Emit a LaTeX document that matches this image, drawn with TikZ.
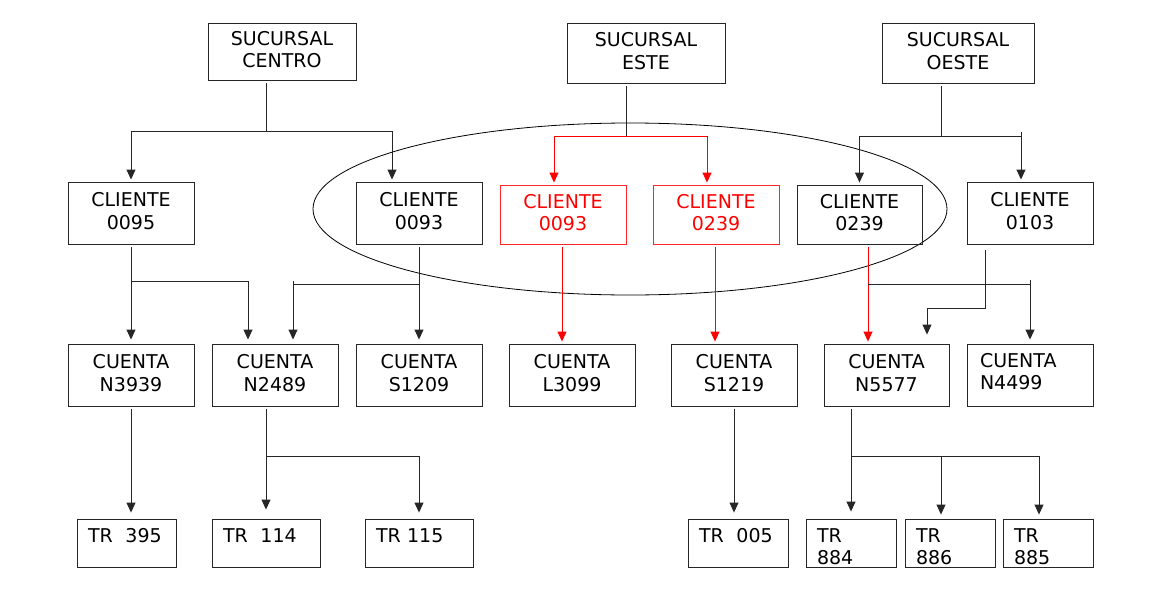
\documentclass[tikz,border=0pt]{standalone}
\usepackage{fontspec}
\setmainfont{DejaVu Sans}
\usetikzlibrary{arrows.meta}
\tikzset{
  box/.style={draw=black!85, line width=0.9pt, inner sep=0pt, align=center,
    font=\fontsize{19}{22.5}\selectfont, text height=36pt, text depth=4pt},
  redbox/.style={box, draw=red!85, text=red},
  leftbox/.style={box, align=left, text height=15pt, text depth=31pt},
  trbox/.style={box, align=left, inner xsep=11pt, minimum height=48pt,
    text height=21pt, text depth=23pt},
  conn/.style={line width=0.9pt, draw=black!85},
  arr/.style={conn, -{Triangle[length=10pt,width=9pt]}},
  rarr/.style={line width=0.9pt, draw=red, -{Triangle[length=10pt,width=9pt]}},
}
\begin{document}
\begin{tikzpicture}[x=1pt,y=-1pt]
\useasboundingbox (0,0) rectangle (1159,597);
% ellipse
\draw[line width=0.8pt] (630,209) ellipse [x radius=317pt, y radius=86pt];
% level 0
\node[box, minimum width=148pt, minimum height=57pt] (sc) at (282,51.5) {SUCURSAL\\CENTRO};
\node[box, minimum width=158pt, minimum height=60pt] (se) at (646,53) {SUCURSAL\\ESTE};
\node[box, minimum width=152pt, minimum height=60pt] (so) at (958,53) {SUCURSAL\\OESTE};
% level 1
\node[box, minimum width=126pt, minimum height=62pt] (c95) at (131,213) {CLIENTE\\0095};
\node[box, minimum width=126pt, minimum height=62pt] (c93) at (419,213) {CLIENTE\\0093};
\node[redbox, minimum width=126pt, minimum height=59pt] (r93) at (563,214.5) {CLIENTE\\0093};
\node[redbox, minimum width=126pt, minimum height=59pt] (r239) at (716,214.5) {CLIENTE\\0239};
\node[box, minimum width=125pt, minimum height=59pt] (c239) at (859.5,214.5) {CLIENTE\\0239};
\node[box, minimum width=126pt, minimum height=62pt] (c103) at (1030,213) {CLIENTE\\0103};
% level 2
\node[box, minimum width=126pt, minimum height=62pt] (n3939) at (131,375) {CUENTA\\N3939};
\node[box, minimum width=126pt, minimum height=62pt] (n2489) at (275,375) {CUENTA\\N2489};
\node[box, minimum width=126pt, minimum height=62pt] (s1209) at (419,375) {CUENTA\\S1209};
\node[box, minimum width=126pt, minimum height=62pt] (l3099) at (572,375) {CUENTA\\L3099};
\node[box, minimum width=126pt, minimum height=62pt] (s1219) at (734,375) {CUENTA\\S1219};
\node[box, minimum width=125pt, minimum height=62pt] (n5577) at (886.5,375) {CUENTA\\N5577};
\node[leftbox, text width=100pt, inner xsep=13pt, minimum height=62pt] (n4499) at (1030,375) {CUENTA\\N4499};
% level 3
\node[trbox, text width=77pt] (t395) at (126.5,543) {TR\ \ 395};
\node[trbox, text width=86pt] (t114) at (266,543) {TR\ \ 114};
\node[trbox, text width=86pt] (t115) at (419,543) {TR 115};
\node[trbox, text width=78pt] (t005) at (738,543) {TR\ \ 005};
\node[trbox, text width=68pt] (t884) at (851,543) {TR\\884};
\node[trbox, text width=68pt] (t886) at (950,543) {TR\\886};
\node[trbox, text width=68pt] (t885) at (1048,543) {TR\\885};
% connectors: centro
\coordinate (jc) at (266,131);
\draw[conn] ([xshift=-16pt,yshift=-3pt]sc.south) -- (jc);
\draw[arr] (jc) -| ([yshift=2pt]c95.north);
\draw[arr] (jc) -| ([xshift=-27pt,yshift=2pt]c93.north);
% este
\coordinate (je) at (626,136);
\draw[conn] ([xshift=-20pt,yshift=-3pt]se.south) -- (je);
\draw[rarr] (je) -| ([xshift=-9pt,yshift=2pt]r93.north);
\draw[rarr] (je) -| ([xshift=-9pt,yshift=2pt]r239.north);
% oeste
\coordinate (jo) at (941,136);
\coordinate (ko) at (1021,132);
\draw[conn] ([xshift=-17pt,yshift=-3pt]so.south) -- (jo);
\draw[arr] (jo) -| ([yshift=2pt]c239.north);
\draw[arr] (jo) -| ([xshift=-9pt,yshift=2pt]c103.north);
\draw[conn] (ko) -- (ko |- jo);
% cliente 0095
\coordinate (j95) at (131,281);
\draw[arr] ([yshift=-3pt]c95.south) -- ([yshift=4pt]n3939.north);
\draw[arr] (j95) -| ([xshift=-27pt,yshift=4pt]n2489.north);
% cliente 0093
\coordinate (j93) at (419,284);
\coordinate (k93) at (293,281);
\draw[arr] ([yshift=-3pt]c93.south) -- ([yshift=4pt]s1209.north);
\draw[arr] (j93) -| ([xshift=18pt,yshift=4pt]n2489.north);
\draw[conn] (k93) -- (k93 |- j93);
% red clientes
\draw[rarr] ([xshift=-1pt,yshift=-3pt]r93.south) -- ([xshift=-10pt,yshift=2pt]l3099.north);
\draw[rarr] ([xshift=-1pt,yshift=-3pt]r239.south) -- ([xshift=-19pt,yshift=2pt]s1219.north);
\draw[rarr] ([xshift=8.5pt,yshift=-3pt]c239.south) -- ([xshift=-18.5pt,yshift=2pt]n5577.north);
% branch to N4499
\coordinate (j239) at (868,284);
\coordinate (k239) at (1030,280);
\draw[arr] (j239) -| ([yshift=4pt]n4499.north);
\draw[conn] (k239) -- (k239 |- j239);
% cliente 0103
\coordinate (j103) at (985,308);
\draw[arr] ([xshift=-45pt,yshift=-6pt]c103.south) -- (j103) -| ([xshift=40.5pt,yshift=9pt]n5577.north);
% cuentas to TR
\draw[arr] ([yshift=-3pt]n3939.south) -- ([xshift=4.5pt,yshift=6pt]t395.north);
\coordinate (j2489) at (266,456);
\draw[arr] ([xshift=-9pt,yshift=-3pt]n2489.south) -- ([yshift=9pt]t114.north);
\draw[arr] (j2489) -| ([yshift=6pt]t115.north);
\draw[arr] ([yshift=-3pt]s1219.south) -- ([xshift=-4pt,yshift=6pt]t005.north);
\coordinate (j5577) at (851,456);
\draw[arr] ([xshift=-35.5pt,yshift=-3pt]n5577.south) -- ([yshift=7pt]t884.north);
\draw[arr] (j5577) -| ([xshift=-9pt,yshift=4pt]t886.north);
\draw[arr] (j5577) -| ([xshift=-9pt,yshift=4pt]t885.north);
\end{tikzpicture}
\end{document}
